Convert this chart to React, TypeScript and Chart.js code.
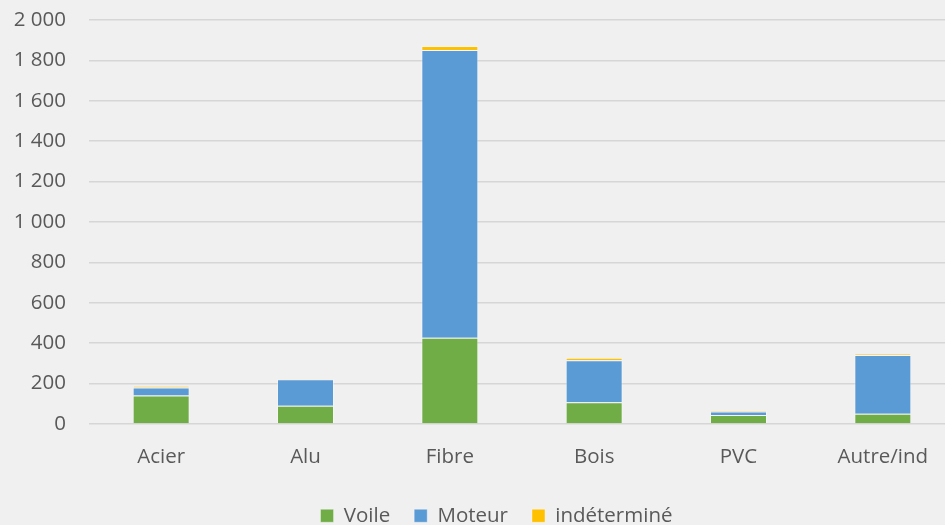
import React, { useEffect, useRef } from "react";
import { Chart, registerables } from "chart.js";

Chart.register(...registerables);

const categories = ["Acier", "Alu", "Fibre", "Bois", "PVC", "Autre/ind"];
const voile = [141, 90, 427, 108, 44, 51];
const moteur = [40, 132, 1424, 208, 18, 290];
const indetermine = [8, 2, 20, 12, 5, 5];
const seriesNames = ["Voile", "Moteur", "indéterminé"];

const FONT = "'Open Sans', 'DejaVu Sans', sans-serif";
const TEXT = "#595959";

function fmt(v: number): string {
  return String(v).replace(/\B(?=(\d{3})+(?!\d))/g, " ");
}

const legendShift = {
  id: "legendShift",
  afterLayout(chart: any) {
    if (chart.legend) chart.legend.left += 38;
  },
};

export default function App() {
  const ref = useRef<HTMLCanvasElement | null>(null);

  useEffect(() => {
    if (!ref.current) return;
    const chart = new Chart(ref.current, {
      type: "bar",
      data: {
        labels: categories,
        datasets: [
          { label: seriesNames[0], data: voile, backgroundColor: "#70AD47" },
          { label: seriesNames[1], data: moteur, backgroundColor: "#5B9BD5" },
          { label: seriesNames[2], data: indetermine, backgroundColor: "#FFC000" },
        ].map((d) => ({
          ...d,
          borderColor: "rgba(255,255,255,0.35)",
          borderWidth: 1,
          categoryPercentage: 1,
          barPercentage: 0.395,
        })),
      },
      plugins: [legendShift],
      options: {
        responsive: false,
        animation: false,
        layout: { padding: { top: 20, right: 85, left: 0, bottom: 0 } },
        plugins: {
          tooltip: { enabled: false },
          legend: {
            position: "bottom",
            labels: {
              boxWidth: 13,
              boxHeight: 13,
              padding: 24,
              color: TEXT,
              font: { family: FONT, size: 20.5 },
            },
          },
        },
        scales: {
          x: {
            stacked: true,
            grid: { display: false, drawTicks: false },
            border: { display: false },
            ticks: { color: TEXT, font: { family: FONT, size: 20.5 }, padding: 21, maxRotation: 0 },
            afterFit: (s: any) => {
              s.height = 57.5;
            },
          },
          y: {
            stacked: true,
            min: 0,
            max: 2000,
            grid: { color: "#d6d6d6", lineWidth: 1.5, drawTicks: false },
            border: { display: false },
            ticks: {
              stepSize: 200,
              color: TEXT,
              font: { family: FONT, size: 20.5 },
              padding: 23,
              callback: (v: any) => fmt(Number(v)),
            },
            afterFit: (s: any) => {
              s.width = 89;
              s.paddingTop = 12;
              s.paddingBottom = 12;
            },
          },
        },
      },
    });
    return () => chart.destroy();
  }, []);

  return (
    <div
      style={{
        position: "fixed",
        left: 0,
        top: 0,
        width: 945,
        height: 525,
        overflow: "hidden",
        background: "#f0f0f0",
      }}
    >
      <canvas ref={ref} width={1040} height={536} style={{ display: "block", width: 1040, height: 536 }} />
    </div>
  );
}
